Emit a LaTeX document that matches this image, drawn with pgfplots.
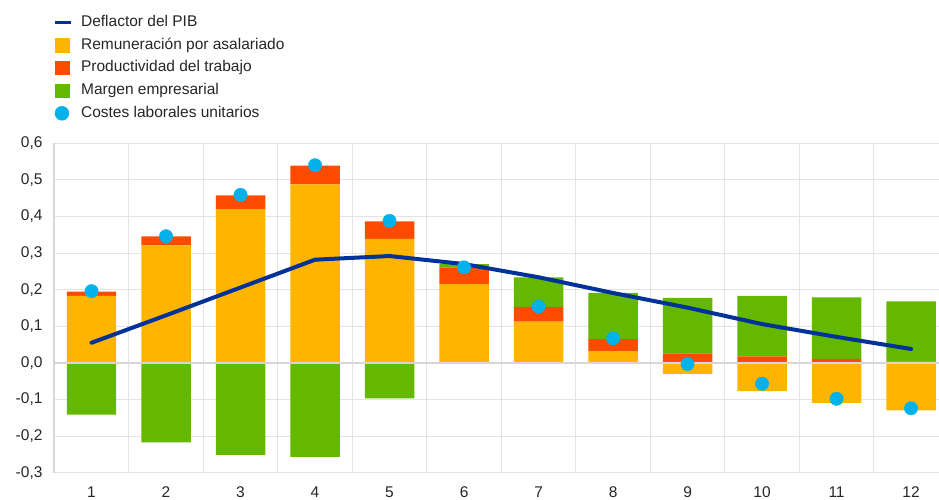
\documentclass[border=0pt]{standalone}
\usepackage{fontspec}
\setmainfont{Liberation Sans}
\usepackage{pgfplots}
\pgfplotsset{compat=1.18}
\definecolor{ecbblue}{HTML}{003299}
\definecolor{ecbyellow}{HTML}{FFB400}
\definecolor{ecborange}{HTML}{FF4B00}
\definecolor{ecbgreen}{HTML}{65B800}
\definecolor{ecbcyan}{HTML}{00B1EA}
\definecolor{gridgray}{HTML}{E4E4E4}
\definecolor{axisgray}{HTML}{D6D6D6}
\pgfplotsset{
  common/.style={
    scale only axis, width=884.7pt, height=329.4pt,
    xmin=0.5, xmax=12.375, ymin=-0.3, ymax=0.6,
  },
}
\begin{document}
\fontsize{15.5}{18}\selectfont
\begin{tikzpicture}
% positive contributions
\begin{axis}[common, name=main,
  ybar stacked, bar width=0.663,
  xtick={1,2,3,4,5,6,7,8,9,10,11,12},
  ytick={-0.3,-0.2,-0.1,0,0.1,0.2,0.3,0.4,0.5,0.6},
  minor xtick={1.5,2.5,3.5,4.5,5.5,6.5,7.5,8.5,9.5,10.5,11.5},
  xminorgrids=true, ymajorgrids=true, xmajorgrids=false,
  major grid style={gridgray, line width=1pt},
  minor grid style={gridgray, line width=1pt},
  major tick length=0pt, minor tick length=0pt,
  axis lines*=left, separate axis lines,
  x axis line style={draw=none},
  y axis line style={axisgray, line width=2pt},
  /pgf/number format/assume math mode=true,
  /pgf/number format/use comma,
  yticklabel style={/pgf/number format/fixed, /pgf/number format/fixed zerofill, /pgf/number format/precision=1, xshift=-6.5pt},
  xticklabel style={yshift=-9pt},
  tick label style={font=\fontsize{15.5}{18}\selectfont, text=black!85},
]
\addplot[fill=ecbyellow, draw=none] coordinates {
 (1,0.183) (2,0.321) (3,0.420) (4,0.488) (5,0.339) (6,0.215)
 (7,0.113) (8,0.032) (9,0) (10,0) (11,0) (12,0)};
\addplot[fill=ecborange, draw=none] coordinates {
 (1,0.012) (2,0.025) (3,0.038) (4,0.051) (5,0.048) (6,0.046)
 (7,0.040) (8,0.033) (9,0.026) (10,0.018) (11,0.011) (12,0.004)};
\addplot[fill=ecbgreen, draw=none] coordinates {
 (1,0) (2,0) (3,0) (4,0) (5,0) (6,0.009)
 (7,0.081) (8,0.126) (9,0.152) (10,0.165) (11,0.168) (12,0.164)};
\end{axis}
% negative contributions
\begin{axis}[common, hide axis, ybar stacked, bar width=0.663]
\addplot[fill=ecbyellow, draw=none] coordinates {
 (1,0) (2,0) (3,0) (4,0) (5,0) (6,0)
 (7,0) (8,0) (9,-0.030) (10,-0.077) (11,-0.109) (12,-0.130)};
\addplot[fill=ecbgreen, draw=none] coordinates {
 (1,-0.141) (2,-0.217) (3,-0.251) (4,-0.257) (5,-0.097) (6,0)
 (7,0) (8,0) (9,0) (10,0) (11,0) (12,0)};
\end{axis}
% line, dots, legend
\begin{axis}[common, hide axis,
  legend style={at={(0,1)}, anchor=north west, xshift=-1.3pt, yshift=127.8pt,
    draw=none, fill=none, inner sep=0pt, row sep=8.6pt,
    font=\fontsize{15.5}{18}\selectfont, text=black!85,
    nodes={inner sep=0pt, text height=11pt, text depth=3pt},
    /tikz/every odd column/.append style={column sep=8.4pt}},
  legend cell align=left,
]
\addlegendimage{legend image code/.code={\draw[ecbblue, line width=3.5pt] (0pt,0pt) -- (16pt,0pt);}}
\addlegendentry{Deflactor del PIB}
\addlegendimage{legend image code/.code={\fill[ecbyellow] (0pt,-6.7pt) rectangle (14pt,6.7pt);}}
\addlegendentry{Remuneración por asalariado}
\addlegendimage{legend image code/.code={\fill[ecborange] (0pt,-6.7pt) rectangle (14pt,6.7pt);}}
\addlegendentry{Productividad del trabajo}
\addlegendimage{legend image code/.code={\fill[ecbgreen] (0pt,-6.7pt) rectangle (14pt,6.7pt);}}
\addlegendentry{Margen empresarial}
\addlegendimage{legend image code/.code={\fill[ecbcyan] (7pt,0pt) circle (7pt);}}
\addlegendentry{Costes laborales unitarios}
\draw[axisgray, line width=2pt] (axis cs:0.5,0) -- (axis cs:12.375,0);
\addplot[ecbblue, line width=4pt, line cap=round, line join=round, mark=none] coordinates {
 (1,0.055) (2,0.130) (3,0.206) (4,0.282) (5,0.292) (6,0.270)
 (7,0.234) (8,0.191) (9,0.151) (10,0.106) (11,0.071) (12,0.038)};
\addplot[only marks, mark=*, mark size=6.7pt, ecbcyan, mark options={draw=none, fill=ecbcyan}] coordinates {
 (1,0.196) (2,0.346) (3,0.459) (4,0.540) (5,0.388) (6,0.261)
 (7,0.154) (8,0.067) (9,-0.003) (10,-0.057) (11,-0.098) (12,-0.124)};
\end{axis}
\pgfresetboundingbox
\path (main.south west) ++(-54.3pt,-27.3pt) rectangle ++(939pt,500pt);
\end{tikzpicture}
\end{document}
